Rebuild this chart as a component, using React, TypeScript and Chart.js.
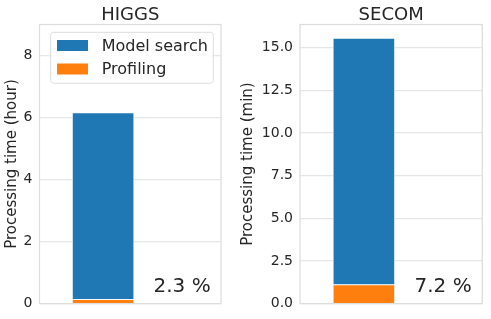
import { useEffect, useRef } from 'react';
import { Chart, registerables } from 'chart.js';

Chart.register(...registerables);
Chart.defaults.font.family = "'DejaVu Sans', sans-serif";

// ---- data ----
const seriesNames = ['Model search', 'Profiling'];
const panelTitles = ['HIGGS', 'SECOM'];
const yAxisTitles = ['Processing time (hour)', 'Processing time (min)'];
const higgsModelSearch = [6.02];
const higgsProfiling = [0.14];
const secomModelSearch = [14.44];
const secomProfiling = [1.12];
const higgsTicks = [0, 2, 4, 6, 8];
const higgsTickLabels = ['0', '2', '4', '6', '8'];
const secomTicks = [0, 2.5, 5, 7.5, 10, 12.5, 15];
const secomTickLabels = ['0.0', '2.5', '5.0', '7.5', '10.0', '12.5', '15.0'];
const percentLabels = ['2.3 %', '7.2 %'];
const yMaxes = [9, 16.35];

const BLUE = '#1f77b4';
const ORANGE = '#ff7f0e';
const TEXT = '#262626';

type PanelProps = {
  idx: number;
  left: number;
  width: number;
  padding: { left: number; right: number; top: number; bottom: number };
  yAxisWidth: number;
  titlePad: number;
  modelSearch: number[];
  profiling: number[];
  ticks: number[];
  tickLabels: string[];
  showLegend: boolean;
};

function Panel(props: PanelProps) {
  const ref = useRef<HTMLCanvasElement | null>(null);
  useEffect(() => {
    const canvas = ref.current;
    if (!canvas) return;
    const { idx } = props;

    const overlay = {
      id: 'overlay' + idx,
      afterDatasetsDraw(chart: any) {
        const { ctx, chartArea: ca } = chart;
        ctx.save();
        ctx.strokeStyle = '#dddddd';
        ctx.lineWidth = 1.25;
        ctx.strokeRect(ca.left, ca.top, ca.right - ca.left, ca.bottom - ca.top);
        ctx.restore();
      },
      afterDraw(chart: any) {
        const { ctx, chartArea: ca } = chart;
        const xs = chart.scales.x;
        ctx.save();
        // title
        ctx.fillStyle = TEXT;
        ctx.font = "18px 'DejaVu Sans'";
        ctx.textAlign = 'center';
        ctx.textBaseline = 'alphabetic';
        ctx.fillText(panelTitles[idx], (ca.left + ca.right) / 2, 20);
        // percent text
        ctx.font = "20px 'DejaVu Sans'";
        ctx.textAlign = 'left';
        ctx.fillText(
          percentLabels[idx],
          xs.getPixelForValue(0.65),
          ca.bottom - 0.04 * (ca.bottom - ca.top)
        );
        // legend
        if (props.showLegend) {
          const bx = ca.left + 11.2;
          const by = ca.top + 7.8;
          const bw = 162.6;
          const bh = 51;
          const r = 3;
          ctx.beginPath();
          ctx.moveTo(bx + r, by);
          ctx.lineTo(bx + bw - r, by);
          ctx.arcTo(bx + bw, by, bx + bw, by + r, r);
          ctx.lineTo(bx + bw, by + bh - r);
          ctx.arcTo(bx + bw, by + bh, bx + bw - r, by + bh, r);
          ctx.lineTo(bx + r, by + bh);
          ctx.arcTo(bx, by + bh, bx, by + bh - r, r);
          ctx.lineTo(bx, by + r);
          ctx.arcTo(bx, by, bx + r, by, r);
          ctx.closePath();
          ctx.fillStyle = 'rgba(255,255,255,0.9)';
          ctx.fill();
          ctx.strokeStyle = '#dcdcdc';
          ctx.lineWidth = 1;
          ctx.stroke();
          const colors = [BLUE, ORANGE];
          const rows = [by + 13.2, by + 36.7];
          ctx.font = "16px 'DejaVu Sans'";
          ctx.textBaseline = 'middle';
          ctx.textAlign = 'left';
          seriesNames.forEach((name, i) => {
            ctx.fillStyle = colors[i];
            ctx.fillRect(bx + 6.3, rows[i] - 5.5, 31, 11);
            ctx.fillStyle = TEXT;
            ctx.fillText(name, bx + 51, rows[i] + 1);
          });
        }
        ctx.restore();
      },
    };

    const chart = new Chart(canvas, {
      type: 'bar',
      data: {
        datasets: [
          {
            label: seriesNames[1],
            data: props.profiling.map((v) => ({ x: 0, y: v })),
            backgroundColor: ORANGE,
            borderColor: 'rgba(255,255,255,0.8)',
            borderWidth: 1,
            barThickness: 62,
          },
          {
            label: seriesNames[0],
            data: props.modelSearch.map((v) => ({ x: 0, y: v })),
            backgroundColor: BLUE,
            borderColor: 'rgba(255,255,255,0.8)',
            borderWidth: 1,
            barThickness: 62,
          },
        ],
      },
      options: {
        responsive: false,
        animation: false,
        events: [],
        layout: { padding: props.padding },
        plugins: {
          legend: { display: false },
          tooltip: { enabled: false },
          title: { display: false },
        },
        scales: {
          x: {
            type: 'linear',
            stacked: true,
            min: -0.82,
            max: 1.52,
            offset: false,
            display: false,
            grid: { display: false },
          },
          y: {
            type: 'linear',
            stacked: true,
            min: 0,
            max: yMaxes[idx],
            afterFit: (scale: any) => {
              scale.width = props.yAxisWidth;
            },
            afterBuildTicks: (scale: any) => {
              scale.ticks = props.ticks.map((v) => ({ value: v }));
            },
            ticks: {
              padding: 7,
              color: TEXT,
              font: { size: 14 },
              callback: (_v: any, i: number) => props.tickLabels[i],
            },
            grid: {
              color: '#e6e6e6',
              lineWidth: 1.2,
              drawTicks: false,
            },
            border: { display: false },
            title: {
              display: true,
              text: yAxisTitles[idx],
              color: TEXT,
              font: { size: 15 },
              padding: { top: props.titlePad, bottom: 0 },
            },
          },
        },
      },
      plugins: [overlay],
    } as any);
    return () => chart.destroy();
  }, []);
  return (
    <canvas
      ref={ref}
      width={props.width}
      height={319}
      style={{ position: 'absolute', left: props.left, top: 0, width: props.width, height: 319 }}
    />
  );
}

export default function App() {
  return (
    <div style={{ position: 'fixed', left: 0, top: 0, width: 491, height: 319, background: '#fff' }}>
      <Panel
        idx={0}
        left={0}
        width={232}
        padding={{ left: 0, right: 11, top: 24.5, bottom: 15 }}
        yAxisWidth={39.5}
        titlePad={3.5}
        modelSearch={higgsModelSearch}
        profiling={higgsProfiling}
        ticks={higgsTicks}
        tickLabels={higgsTickLabels}
        showLegend={true}
      />
      <Panel
        idx={1}
        left={232}
        width={259}
        padding={{ left: 4, right: 8.7, top: 24.5, bottom: 15 }}
        yAxisWidth={64}
        titlePad={3.3}
        modelSearch={secomModelSearch}
        profiling={secomProfiling}
        ticks={secomTicks}
        tickLabels={secomTickLabels}
        showLegend={false}
      />
    </div>
  );
}
